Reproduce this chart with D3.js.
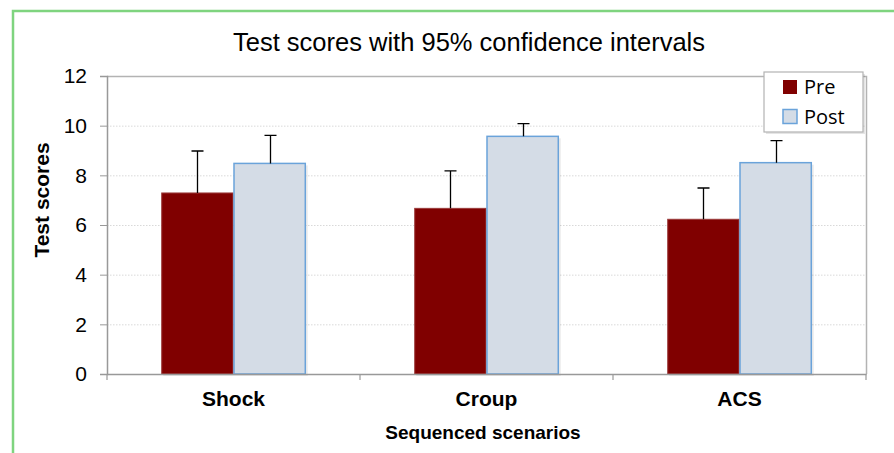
<!DOCTYPE html>
<html>
<head>
<meta charset="utf-8">
<script src="https://cdn.jsdelivr.net/npm/d3@7"></script>
<style>
  body { margin: 0; background: #fff; }
  svg { display: block; font-family: "Liberation Sans", Arial, sans-serif; }
</style>
</head>
<body>
<svg id="chart" width="894" height="453"></svg>
<script>
var categories = ["Shock", "Croup", "ACS"];
var seriesNames = ["Pre", "Post"];
var preValues = [7.29, 6.67, 6.23];
var postValues = [8.48, 9.57, 8.51];
var preUpper = [8.98, 8.18, 7.49];
var postUpper = [9.61, 10.08, 9.40];
var yTicks = [0, 2, 4, 6, 8, 10, 12];

var svg = d3.select("#chart");

// outer green frame
svg.append("rect")
  .attr("x", 13).attr("y", 11)
  .attr("width", 900).attr("height", 460)
  .attr("fill", "none")
  .attr("stroke", "#7fd47f")
  .attr("stroke-width", 2.5);

var margin = {left: 107, top: 76, right: 866, bottom: 374};

var x = d3.scaleBand()
  .domain(categories)
  .range([margin.left, margin.right])
  .paddingInner(0)
  .paddingOuter(0);

var xs = d3.scaleBand()
  .domain(seriesNames)
  .range([0, x.bandwidth()])
  .paddingInner(0)
  .paddingOuter(0.75);

var y = d3.scaleLinear()
  .domain([0, 12])
  .range([margin.bottom, margin.top]);

// grid
svg.append("g")
  .selectAll("line")
  .data(yTicks.filter(d => d > 0 && d < 12))
  .join("line")
  .attr("x1", margin.left).attr("x2", margin.right)
  .attr("y1", d => y(d) + 0.5).attr("y2", d => y(d) + 0.5)
  .attr("stroke", "#d9d9d9")
  .attr("stroke-dasharray", "1.5,1.5");

// plot frame top and right
svg.append("path")
  .attr("d", "M" + margin.left + "," + (margin.top + 0.5) + "H" + (margin.right + 0.5) + "V" + margin.bottom)
  .attr("fill", "none")
  .attr("stroke", "#b3b3b3")
  .attr("stroke-width", 1.5);

// y axis
var yAxis = svg.append("g")
  .attr("transform", "translate(" + margin.left + ",0)")
  .call(d3.axisLeft(y).tickValues(yTicks).tickSize(7).tickPadding(13));
yAxis.select(".domain").attr("stroke", "#999").attr("stroke-width", 1.5);
yAxis.selectAll(".tick line").attr("stroke", "#999");
yAxis.selectAll("text").attr("font-size", 21).attr("fill", "#000")
  .attr("font-family", "Liberation Sans, Arial, sans-serif");

// bars
var groups = svg.append("g")
  .selectAll("g")
  .data(categories)
  .join("g")
  .attr("transform", d => "translate(" + x(d) + ",0)");

var barData = categories.map(function (c, i) {
  return [
    {cat: c, key: "Pre", value: preValues[i], upper: preUpper[i]},
    {cat: c, key: "Post", value: postValues[i], upper: postUpper[i]}
  ];
});

groups.each(function (c, i) {
  var g = d3.select(this);
  var bars = barData[i];
  // shadow
  g.selectAll("rect.shadow")
    .data(bars)
    .join("rect")
    .attr("class", "shadow")
    .attr("x", d => xs(d.key) + 2)
    .attr("y", d => y(d.value) + 2)
    .attr("width", xs.bandwidth())
    .attr("height", d => y(0) - y(d.value))
    .attr("fill", "#000")
    .attr("opacity", 0.08);
  g.selectAll("rect.bar")
    .data(bars)
    .join("rect")
    .attr("class", "bar")
    .attr("x", d => xs(d.key) + 0.5)
    .attr("y", d => y(d.value))
    .attr("width", xs.bandwidth() - 1)
    .attr("height", d => y(0) - y(d.value))
    .attr("fill", d => d.key === "Pre" ? "#800000" : "#d4dce6")
    .attr("stroke", d => d.key === "Pre" ? "#9a3a3a" : "#6aa3da")
    .attr("stroke-width", d => d.key === "Pre" ? 1 : 1.5);
  // error bars
  g.selectAll("path.err")
    .data(bars)
    .join("path")
    .attr("class", "err")
    .attr("d", function (d) {
      var cx = Math.round(xs(d.key) + xs.bandwidth() / 2) + 0.5;
      return "M" + cx + "," + y(d.value) + "V" + y(d.upper) +
        "M" + (cx - 6) + "," + y(d.upper) + "H" + (cx + 6);
    })
    .attr("stroke", "#000")
    .attr("stroke-width", 1.3)
    .attr("fill", "none");
});

// x axis
var xAxis = svg.append("g")
  .attr("transform", "translate(0," + margin.bottom + ")")
  .call(d3.axisBottom(x).tickSize(0).tickPadding(17));
xAxis.select(".domain").attr("stroke", "#999").attr("stroke-width", 1.5);
xAxis.selectAll("text").attr("font-size", 21).attr("font-weight", "bold").attr("fill", "#000")
  .attr("font-family", "Liberation Sans, Arial, sans-serif");
svg.append("g")
  .selectAll("line")
  .data(d3.range(categories.length + 1))
  .join("line")
  .attr("x1", d => margin.left + d * x.step())
  .attr("x2", d => margin.left + d * x.step())
  .attr("y1", margin.bottom).attr("y2", margin.bottom + 6)
  .attr("stroke", "#999").attr("stroke-width", 1.2);

// title
svg.append("text")
  .attr("x", 469).attr("y", 51)
  .attr("text-anchor", "middle")
  .attr("font-size", 25.5)
  .text("Test scores with 95% confidence intervals");

// axis titles
svg.append("text")
  .attr("x", 483).attr("y", 439)
  .attr("text-anchor", "middle")
  .attr("font-size", 19).attr("font-weight", "bold")
  .text("Sequenced scenarios");

svg.append("text")
  .attr("transform", "translate(49,200) rotate(-90)")
  .attr("text-anchor", "middle")
  .attr("font-size", 21).attr("font-weight", "bold")
  .text("Test scores");

// legend
var legend = svg.append("g").attr("transform", "translate(764,72)");
legend.append("rect")
  .attr("x", 2).attr("y", 2).attr("width", 99).attr("height", 60)
  .attr("fill", "#000").attr("opacity", 0.1);
legend.append("rect")
  .attr("x", 0).attr("y", 0).attr("width", 99).attr("height", 60)
  .attr("fill", "#fff").attr("stroke", "#b3b3b3").attr("stroke-width", 1.2);
var items = legend.selectAll("g.item")
  .data(seriesNames)
  .join("g")
  .attr("class", "item")
  .attr("transform", (d, i) => "translate(19," + (8 + i * 29.5) + ")");
items.append("rect")
  .attr("width", 14).attr("height", 14)
  .attr("fill", d => d === "Pre" ? "#800000" : "#d4dce6")
  .attr("stroke", d => d === "Pre" ? "none" : "#6aa3da")
  .attr("stroke-width", 1.5);
items.append("text")
  .attr("x", 21).attr("y", 14)
  .attr("font-size", 20)
  .attr("font-family", "Open Sans, Liberation Sans, sans-serif")
  .text(d => d);
</script>
</body>
</html>
